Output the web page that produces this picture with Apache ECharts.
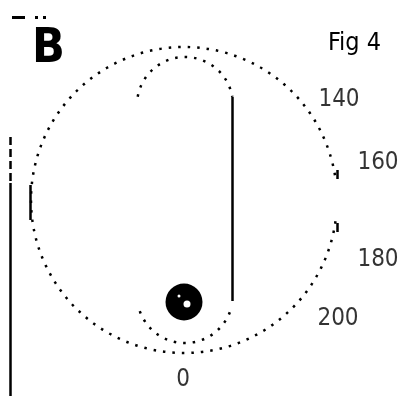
<!DOCTYPE html>
<html>
<head>
<meta charset="utf-8">
<script src="https://cdn.jsdelivr.net/npm/echarts@6/dist/echarts.min.js"></script>
<style>html,body{margin:0;padding:0;background:#fff}#c{width:404px;height:396px}</style>
</head>
<body>
<div id="c"></div>
<script>
// Dial tick labels and where they sit around the dial (diagram units = px)
var dialLabels = ['140', '160', '180', '200', '0'];
var dialX = [339, 378, 378, 338, 183];
var dialY = [100, 163, 260, 319, 380];

// Arcs: [centerX, centerY, radius, startDeg, endDeg] (screen angles, clockwise)
var dottedArcs = [
  [184, 200, 153, 8, 352],     // outer dial
  [185, 105, 48, -170, -10],   // inner track, top bend
  [185, 295, 48, 21, 163]      // inner track, bottom bend
];

// Straight strokes: [x1, y1, x2, y2]
var solidStrokes = [
  [232, 97, 232, 301],   // inner track, right side
  [30, 185, 30, 220],    // dial, left solid piece
  [337, 170, 337, 179],  // dial, right solid pieces
  [337, 223, 337, 232],
  [10, 183, 10, 396]     // left margin line
];
var dashedStrokes = [
  [10, 137, 10, 181]
];
var markStroke = [[12, 17, 47, 17]];

// Ball
var ball = [[184, 302]];
var ballGlints = [[187, 304, 7], [179, 296, 3]];

var chart = echarts.init(document.getElementById('c'), null, {renderer: 'canvas'});
var FONT = '"DejaVu Sans Condensed", "DejaVu Sans", sans-serif';

function segs(arr) {
  return arr.map(function (s) { return {coords: [[s[0], s[1]], [s[2], s[3]]]}; });
}

chart.setOption({
  animation: false,
  backgroundColor: '#fff',
  title: [
    {text: 'B', left: 27, top: 21, textStyle: {fontFamily: FONT, fontSize: 48, fontWeight: 'bold', color: '#000'}},
    {text: 'Fig 4', left: 323, top: 26, textStyle: {fontFamily: FONT, fontSize: 25, fontWeight: 'normal', color: '#000'}}
  ],
  grid: {left: 0, right: 0, top: 0, bottom: 0},
  xAxis: {type: 'value', min: 0, max: 404, show: false},
  yAxis: {type: 'value', min: 0, max: 396, inverse: true, show: false},
  series: [
    {
      type: 'custom',
      coordinateSystem: 'cartesian2d',
      data: dottedArcs,
      renderItem: function (params, api) {
        var c = api.coord([api.value(0), api.value(1)]);
        var r = api.size([api.value(2), 0])[0];
        return {
          type: 'arc',
          shape: {cx: c[0], cy: c[1], r: r,
            startAngle: api.value(3) * Math.PI / 180,
            endAngle: api.value(4) * Math.PI / 180, clockwise: true},
          style: {stroke: '#000', fill: null, lineWidth: 2.5, lineDash: [2.5, 7]}
        };
      },
      silent: true
    },
    {
      type: 'lines', coordinateSystem: 'cartesian2d', silent: true,
      data: segs(solidStrokes),
      lineStyle: {color: '#000', width: 2.5, type: 'solid', opacity: 1}
    },
    {
      type: 'lines', coordinateSystem: 'cartesian2d', silent: true,
      data: segs(dashedStrokes),
      lineStyle: {color: '#000', width: 2.5, type: [8, 4], opacity: 1}
    },
    {
      type: 'lines', coordinateSystem: 'cartesian2d', silent: true,
      data: segs(markStroke),
      lineStyle: {color: '#000', width: 3, type: [13, 10, 3, 5, 3, 20], opacity: 1}
    },
    {
      type: 'scatter', silent: true,
      data: ball, symbol: 'circle', symbolSize: 37,
      itemStyle: {color: '#000', opacity: 1}
    },
    {
      type: 'scatter', silent: true,
      data: ballGlints, symbol: 'circle',
      symbolSize: function (v) { return v[2]; },
      itemStyle: {color: '#fff', opacity: 1}
    },
    {
      type: 'scatter', silent: true,
      data: dialLabels.map(function (t, i) { return [dialX[i], dialY[i], t]; }),
      symbolSize: 0,
      label: {
        show: true, position: 'inside',
        formatter: function (p) { return p.value[2]; },
        fontFamily: FONT, fontSize: 24, color: '#000', textBorderWidth: 0
      }
    }
  ]
});
</script>
</body>
</html>
